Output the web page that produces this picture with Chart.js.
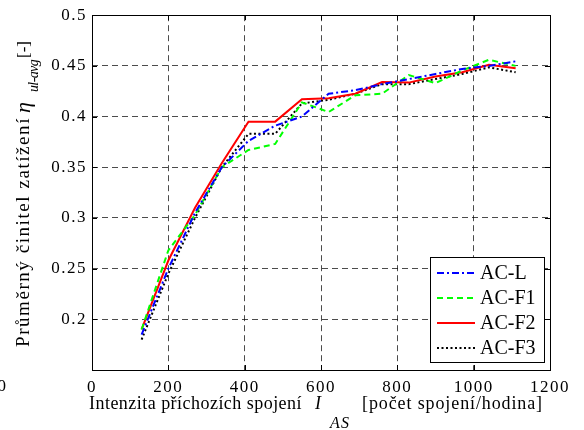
<!DOCTYPE html>
<html>
<head>
<meta charset="utf-8">
<script src="https://cdn.jsdelivr.net/npm/chart.js@4.4.1/dist/chart.umd.min.js"></script>
<style>
  html, body { margin: 0; padding: 0; background: #fff; }
  #wrap { width: 584px; height: 430px; }
</style>
</head>
<body>
<div id="wrap"><canvas id="chart"></canvas></div>
<script>
// values
const xValues = [130, 200, 270, 340, 410, 480, 550, 620, 690, 760, 830, 900, 970, 1040, 1110];
const acL  = [0.185, 0.250, 0.305, 0.350, 0.376, 0.391, 0.400, 0.4225, 0.426, 0.432, 0.437, 0.442, 0.447, 0.450, 0.4545];
const acF1 = [0.190, 0.268, 0.303, 0.350, 0.367, 0.373, 0.414, 0.4045, 0.421, 0.4225, 0.441, 0.433, 0.4455, 0.456, 0.450];
const acF2 = [0.190, 0.258, 0.310, 0.354, 0.395, 0.395, 0.417, 0.418, 0.4225, 0.434, 0.4335, 0.4395, 0.4437, 0.451, 0.4477];
const acF3 = [0.180, 0.245, 0.300, 0.350, 0.383, 0.383, 0.413, 0.4165, 0.4225, 0.432, 0.432, 0.437, 0.442, 0.4486, 0.4437];
const seriesNames = ["AC-L", "AC-F1", "AC-F2", "AC-F3"];
const xTicks = [0, 200, 400, 600, 800, 1000, 1200];
const yTicks = [0.2, 0.25, 0.3, 0.35, 0.4, 0.45, 0.5];

const FONT = "'Liberation Serif', 'Times New Roman', serif";
Chart.defaults.font.family = FONT;
Chart.defaults.font.size = 17;
Chart.defaults.color = "#000";

function toPoints(ys) {
  return xValues.map((x, i) => ({ x: x, y: ys[i] }));
}

function series(label, ys, color, dash) {
  return {
    label: label,
    data: toPoints(ys),
    borderColor: color,
    backgroundColor: color,
    borderWidth: 2,
    borderDash: dash,
    pointRadius: 0,
    tension: 0,
    fill: false
  };
}

// the old figure export spreads its letters out, so stretch a piece to a given length
function fitText(ctx, text, x, y, size, italic, width) {
  ctx.font = (italic ? "italic " : "") + size + "px " + FONT;
  ctx.letterSpacing = "0px";
  const w = ctx.measureText(text).width;
  const ls = width ? (width - w) / text.length : 0;
  ctx.letterSpacing = ls + "px";
  ctx.fillText(text, x, y);
  ctx.letterSpacing = "0px";
}

const decorations = {
  id: "decorations",
  beforeDraw(chart) {
    chart.ctx.letterSpacing = "1.5px";   // tick labels
  },
  afterDatasetsDraw(chart) {
    // legend box inside the plot, lower right
    const ctx = chart.ctx;
    const a = chart.chartArea;
    const right = a.right - 5, bottom = a.bottom - 7;
    const left = right - 115, top = bottom - 106;
    ctx.save();
    ctx.letterSpacing = "0px";
    ctx.fillStyle = "#fff";
    ctx.fillRect(left, top, right - left, bottom - top);
    ctx.strokeStyle = "#000";
    ctx.lineWidth = 1;
    ctx.strokeRect(left + 0.5, top + 0.5, right - left - 1, bottom - top - 1);
    chart.data.datasets.forEach((ds, i) => {
      const y = top + 16 + i * 25;
      ctx.beginPath();
      ctx.setLineDash(ds.borderDash || []);
      ctx.strokeStyle = ds.borderColor;
      ctx.lineWidth = ds.borderWidth;
      ctx.moveTo(left + 7, y);
      ctx.lineTo(left + 45, y);
      ctx.stroke();
      ctx.setLineDash([]);
      ctx.fillStyle = "#000";
      ctx.font = "20px " + FONT;
      ctx.textBaseline = "middle";
      ctx.textAlign = "left";
      ctx.fillText(ds.label, left + 50, y + 1);
    });
    ctx.restore();
  },
  afterDraw(chart) {
    const ctx = chart.ctx;
    const a = chart.chartArea;
    const xs = chart.scales.x, ys = chart.scales.y;
    ctx.save();
    ctx.letterSpacing = "0px";
    // axes box
    ctx.strokeStyle = "#000";
    ctx.lineWidth = 1;
    ctx.setLineDash([]);
    ctx.strokeRect(Math.round(a.left) + 0.5, Math.round(a.top) + 0.5,
                   Math.round(a.right - a.left), Math.round(a.bottom - a.top));
    // inward tick marks
    ctx.beginPath();
    xTicks.forEach(v => {
      const px = Math.round(xs.getPixelForValue(v)) + 0.5;
      ctx.moveTo(px, a.bottom); ctx.lineTo(px, a.bottom - 5);
      ctx.moveTo(px, a.top); ctx.lineTo(px, a.top + 5);
    });
    yTicks.forEach(v => {
      const py = Math.round(ys.getPixelForValue(v)) + 0.5;
      ctx.moveTo(a.left, py); ctx.lineTo(a.left + 5, py);
      ctx.moveTo(a.right, py); ctx.lineTo(a.right - 5, py);
    });
    ctx.stroke();

    ctx.fillStyle = "#000";
    ctx.textBaseline = "alphabetic";
    ctx.textAlign = "left";

    // x axis title
    fitText(ctx, "Intenzita příchozích spojení", 89, 409, 18, false, 213);
    fitText(ctx, "I", 315, 409, 18, true, 0);
    fitText(ctx, "AS", 330, 428, 16, true, 20);
    fitText(ctx, "[počet spojení/hodina]", 362, 409, 18, false, 181);

    // y axis title, rotated; u runs upwards along the axis
    ctx.translate(29, 0);
    ctx.rotate(-Math.PI / 2);
    fitText(ctx, "Průměrný činitel zatížení", -347, 0, 19, false, 230);
    fitText(ctx, "η", -113, 1, 22, true, 0);
    fitText(ctx, "ul-avg", -92, 9, 14, true, 32);
    fitText(ctx, "[-]", -58, 0, 17, false, 17);
    ctx.restore();

    // stray clipped "0" at the lower left of the original figure
    ctx.save();
    ctx.letterSpacing = "0px";
    ctx.font = "17px " + FONT;
    ctx.textAlign = "right";
    ctx.textBaseline = "alphabetic";
    ctx.fillStyle = "#000";
    ctx.fillText("0", 6, 391);
    ctx.restore();
  }
};

new Chart(document.getElementById("chart"), {
  type: "line",
  data: {
    datasets: [
      series(seriesNames[0], acL, "#0000ff", [7, 3, 2, 3]),
      series(seriesNames[1], acF1, "#00ff00", [6, 4]),
      series(seriesNames[2], acF2, "#ff0000", []),
      series(seriesNames[3], acF3, "#000000", [2, 2.5])
    ]
  },
  options: {
    responsive: true,
    maintainAspectRatio: false,
    animation: false,
    layout: { padding: { left: 0, right: 34, top: 14, bottom: 0 } },
    plugins: {
      legend: { display: false },
      tooltip: { enabled: false }
    },
    scales: {
      x: {
        type: "linear",
        min: 0,
        max: 1200,
        afterBuildTicks: s => { s.ticks = xTicks.map(v => ({ value: v })); },
        afterFit: s => { s.height = 60; },
        ticks: {
          padding: 7,
          maxRotation: 0,
          autoSkip: false,
          callback: v => String(v)
        },
        grid: { color: "rgba(0,0,0,0.7)", lineWidth: 1, drawTicks: false },
        border: { display: false, dash: [6, 4] }
      },
      y: {
        type: "linear",
        min: 0.15,
        max: 0.5,
        afterBuildTicks: s => { s.ticks = yTicks.map(v => ({ value: v })); },
        afterFit: s => { s.width = 92; },
        ticks: {
          padding: 5,
          autoSkip: false,
          callback: v => String(+v.toFixed(2))
        },
        grid: { color: "rgba(0,0,0,0.7)", lineWidth: 1, drawTicks: false },
        border: { display: false, dash: [6, 4] }
      }
    }
  },
  plugins: [decorations]
});
</script>
</body>
</html>
